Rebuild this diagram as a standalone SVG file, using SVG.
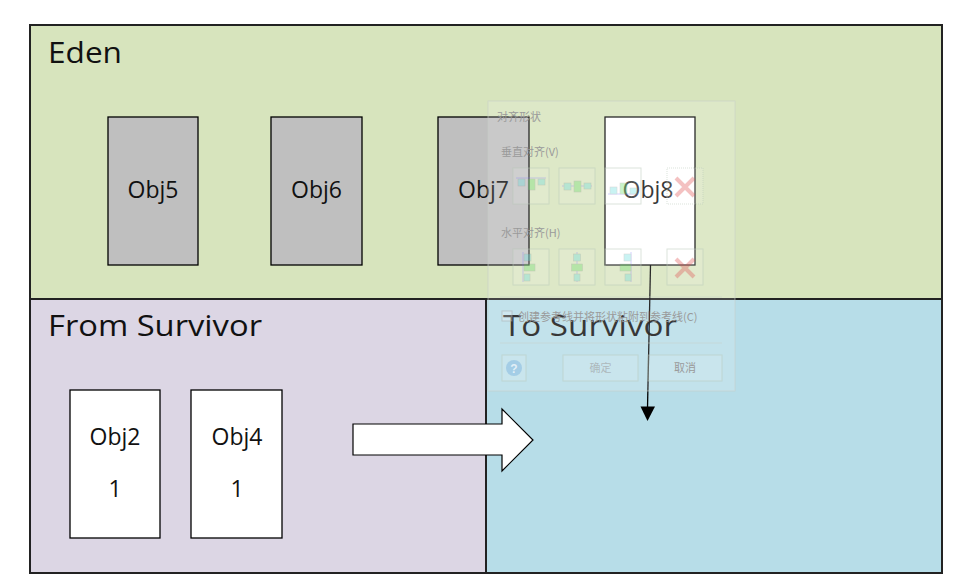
<svg xmlns="http://www.w3.org/2000/svg" width="961" height="588" viewBox="0 0 961 588">
<style>
.region{stroke:#222;stroke-width:2}
.obj{stroke:#000;stroke-width:1.3}
.gray{fill:#bfbfbf}
.white{fill:#fff}
.head{font-family:"Open Sans","Noto Sans","DejaVu Sans",sans-serif;font-size:29px;fill:#111}
.lbl{font-family:"Open Sans","Noto Sans","DejaVu Sans",sans-serif;font-size:23px;fill:#111;text-anchor:middle}
.dlg{font-family:"Noto Sans CJK SC","Noto Sans",sans-serif;font-size:11px;fill:#9a9a9a}
.btn{fill:#ffffff;fill-opacity:0.12;stroke:#b8c8b8;stroke-opacity:0.5;stroke-width:1}
</style>
<rect width="961" height="588" fill="#fff"/>
<g id="eden">
<rect class="region" x="30" y="25" width="912" height="274" fill="#d7e4bd"/>
<text class="head" x="48" y="63" textLength="74" lengthAdjust="spacingAndGlyphs">Eden</text>
</g>
<g id="from-survivor">
<rect class="region" x="30" y="299" width="456" height="274" fill="#dcd6e4"/>
<text class="head" x="48" y="336" textLength="214" lengthAdjust="spacingAndGlyphs">From Survivor</text>
</g>
<g id="to-survivor">
<rect class="region" x="486" y="299" width="456" height="274" fill="#b7dde8"/>
<text class="head" x="503" y="336" textLength="174" lengthAdjust="spacingAndGlyphs">To Survivor</text>
</g>
<g id="obj5"><rect class="obj gray" x="108" y="117" width="90" height="148"/><text class="lbl" x="153" y="198">Obj5</text></g>
<g id="obj6"><rect class="obj gray" x="271" y="117" width="91" height="148"/><text class="lbl" x="316.5" y="198">Obj6</text></g>
<g id="obj7"><rect class="obj gray" x="438" y="117" width="91" height="148"/><text class="lbl" x="483.5" y="198">Obj7</text></g>
<g id="obj8"><rect class="obj white" x="605" y="117" width="90" height="148"/><text class="lbl" x="648" y="198">Obj8</text></g>
<g id="obj2"><rect class="obj white" x="70" y="390" width="90" height="148"/><text class="lbl" x="115" y="445">Obj2</text><text class="lbl" x="115" y="497">1</text></g>
<g id="obj4"><rect class="obj white" x="191" y="390" width="91" height="148"/><text class="lbl" x="237" y="445">Obj4</text><text class="lbl" x="237" y="497">1</text></g>
<g id="connectors">
<polygon points="353,424 502,424 502,409 533,440 502,471 502,455 353,455" fill="#fff" stroke="#000" stroke-width="1.2"/>
<line x1="650.5" y1="265" x2="647.5" y2="408" stroke="#000" stroke-width="1.3"/>
<polygon points="640.5,406.5 655,406.5 647.5,421" fill="#000"/>
</g>
<g id="dialog-overlay">
<rect x="488" y="101" width="247" height="290" fill="#ffffff" fill-opacity="0.16" stroke="#c8d0c8" stroke-opacity="0.6"/>
<text class="dlg" x="497" y="121">对齐形状</text>
<text class="dlg" x="501" y="156" font-size="12">垂直对齐(V)</text>
<rect class="btn" x="513" y="168" width="36" height="36"/>
<rect class="btn" x="559" y="168" width="36" height="36"/>
<rect class="btn" x="605" y="168" width="36" height="36"/>
<rect class="btn" x="667" y="168" width="36" height="36" stroke-dasharray="1,1"/>
<g opacity="0.35">
<line x1="516" y1="178" x2="546" y2="178" stroke="#8080ff"/>
<rect x="518" y="179" width="7" height="7" fill="#66dddd" stroke="#888" stroke-width="0.5"/>
<rect x="528" y="179" width="7" height="11" fill="#66dd66" stroke="#888" stroke-width="0.5"/>
<rect x="538" y="179" width="7" height="6" fill="#66dddd" stroke="#888" stroke-width="0.5"/>
<line x1="562" y1="186" x2="592" y2="186" stroke="#8080ff"/>
<rect x="564" y="183" width="7" height="7" fill="#66dddd" stroke="#888" stroke-width="0.5"/>
<rect x="574" y="181" width="7" height="11" fill="#66dd66" stroke="#888" stroke-width="0.5"/>
<rect x="584" y="183" width="7" height="6" fill="#66dddd" stroke="#888" stroke-width="0.5"/>
<line x1="608" y1="194" x2="638" y2="194" stroke="#8080ff"/>
<rect x="610" y="187" width="7" height="7" fill="#66dddd" stroke="#888" stroke-width="0.5"/>
<rect x="620" y="183" width="7" height="11" fill="#66dd66" stroke="#888" stroke-width="0.5"/>
<rect x="630" y="188" width="7" height="6" fill="#66dddd" stroke="#888" stroke-width="0.5"/>
<path d="M676,178 L694,196 M694,178 L676,196" stroke="#e05050" stroke-width="4"/>
</g>
<text class="dlg" x="501" y="237" font-size="12">水平对齐(H)</text>
<rect class="btn" x="513" y="249" width="36" height="36"/>
<rect class="btn" x="559" y="249" width="36" height="36"/>
<rect class="btn" x="605" y="249" width="36" height="36"/>
<rect class="btn" x="667" y="249" width="36" height="36"/>
<g opacity="0.35">
<line x1="523" y1="252" x2="523" y2="282" stroke="#8080ff"/>
<rect x="524" y="254" width="7" height="7" fill="#66dddd" stroke="#888" stroke-width="0.5"/>
<rect x="524" y="264" width="11" height="7" fill="#66dd66" stroke="#888" stroke-width="0.5"/>
<rect x="524" y="274" width="6" height="7" fill="#66dddd" stroke="#888" stroke-width="0.5"/>
<line x1="577" y1="252" x2="577" y2="282" stroke="#8080ff"/>
<rect x="573.5" y="254" width="7" height="7" fill="#66dddd" stroke="#888" stroke-width="0.5"/>
<rect x="571.5" y="264" width="11" height="7" fill="#66dd66" stroke="#888" stroke-width="0.5"/>
<rect x="574" y="274" width="6" height="7" fill="#66dddd" stroke="#888" stroke-width="0.5"/>
<line x1="631" y1="252" x2="631" y2="282" stroke="#8080ff"/>
<rect x="624" y="254" width="7" height="7" fill="#66dddd" stroke="#888" stroke-width="0.5"/>
<rect x="620" y="264" width="11" height="7" fill="#66dd66" stroke="#888" stroke-width="0.5"/>
<rect x="625" y="274" width="6" height="7" fill="#66dddd" stroke="#888" stroke-width="0.5"/>
<path d="M676,259 L694,277 M694,259 L676,277" stroke="#e05050" stroke-width="4"/>
</g>
<line x1="500" y1="297" x2="722" y2="297" stroke="#c8d0c8" stroke-opacity="0.5"/>
<rect x="502" y="311" width="10" height="10" fill="#fff" fill-opacity="0.2" stroke="#aaa" stroke-opacity="0.5"/>
<text class="dlg" x="518" y="321">创建参考线并将形状粘附到参考线(C)</text>
<line x1="500" y1="343" x2="722" y2="343" stroke="#c8d0c8" stroke-opacity="0.5"/>
<rect class="btn" x="502" y="355" width="24" height="26"/>
<circle cx="514" cy="368" r="8" fill="#7fb6e0" fill-opacity="0.5"/>
<text x="514" y="372.5" font-family="'Liberation Sans',sans-serif" font-size="12" font-weight="bold" fill="#fff" fill-opacity="0.7" text-anchor="middle">?</text>
<rect class="btn" x="563" y="355" width="75" height="26"/>
<text class="dlg" x="600.5" y="372" text-anchor="middle" fill-opacity="0.6">确定</text>
<rect class="btn" x="648" y="355" width="74" height="26"/>
<text class="dlg" x="685" y="372" text-anchor="middle">取消</text>
</g>
</svg>
